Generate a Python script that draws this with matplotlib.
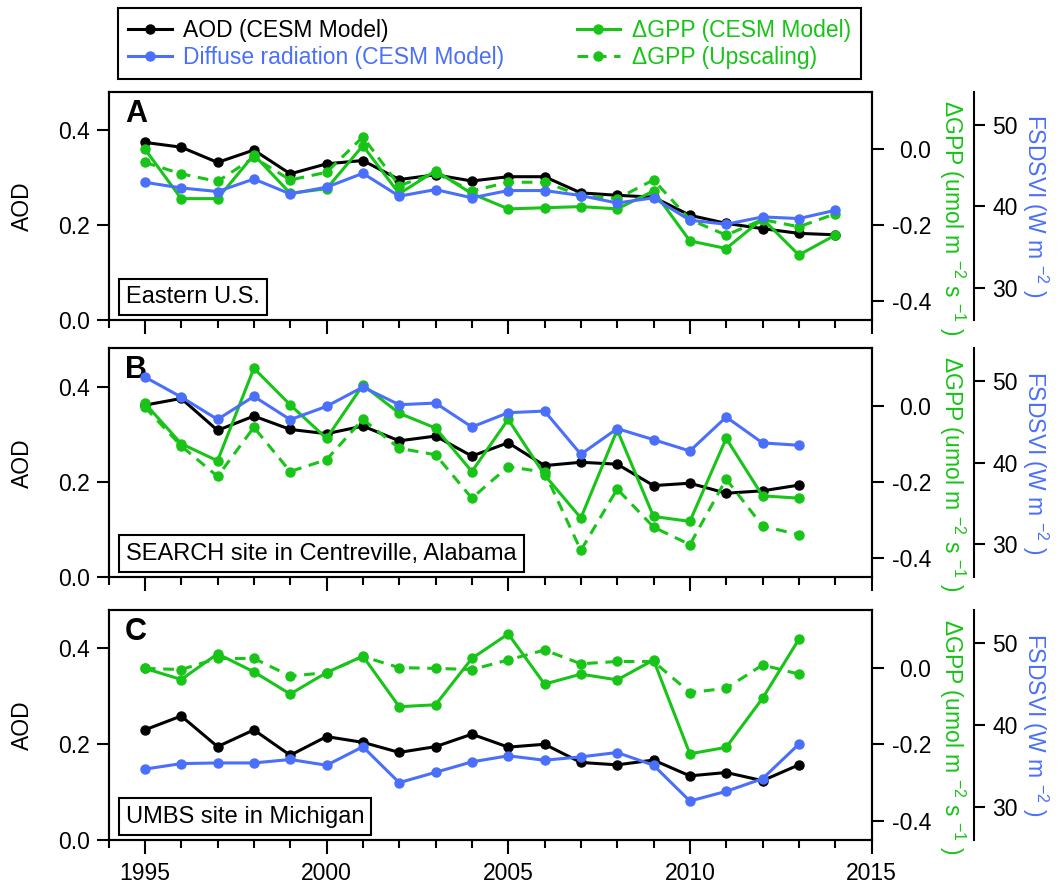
import matplotlib
matplotlib.use('Agg')
import matplotlib.pyplot as plt
from matplotlib.ticker import MultipleLocator

# ---- data ----
years_a = [1995, 1996, 1997, 1998, 1999, 2000, 2001, 2002, 2003, 2004,
           2005, 2006, 2007, 2008, 2009, 2010, 2011, 2012, 2013, 2014]
years_bc = [1995, 1996, 1997, 1998, 1999, 2000, 2001, 2002, 2003, 2004,
            2005, 2006, 2007, 2008, 2009, 2010, 2011, 2012, 2013]

# Panel A: Eastern U.S.
aod_a = [0.374, 0.364, 0.332, 0.358, 0.308, 0.329, 0.336, 0.296, 0.306, 0.293,
         0.302, 0.302, 0.268, 0.263, 0.259, 0.221, 0.204, 0.193, 0.183, 0.180]
gpp_a = [0.000, -0.130, -0.130, -0.015, -0.116, -0.104, 0.009, -0.117, -0.057, -0.117,
         -0.157, -0.154, -0.151, -0.157, -0.110, -0.241, -0.261, -0.183, -0.278, -0.226]
gpp_up_a = [-0.035, -0.065, -0.085, -0.022, -0.081, -0.061, 0.032, -0.096, -0.063, -0.110,
            -0.087, -0.087, -0.122, -0.130, -0.081, -0.185, -0.226, -0.185, -0.204, -0.170]
fsd_a = [42.93, 42.24, 41.80, 43.33, 41.51, 42.33, 44.03, 41.23, 42.04, 41.03,
         41.92, 41.92, 41.31, 40.39, 41.03, 38.29, 37.79, 38.69, 38.49, 39.50]

# Panel B: SEARCH site
aod_b = [0.361, 0.375, 0.308, 0.338, 0.310, 0.301, 0.317, 0.286, 0.296, 0.254,
         0.282, 0.234, 0.241, 0.237, 0.192, 0.197, 0.176, 0.181, 0.193]
gpp_b = [0.006, -0.100, -0.145, 0.098, 0.002, -0.086, 0.054, -0.020, -0.059, -0.173,
         -0.036, -0.182, -0.295, -0.064, -0.291, -0.304, -0.086, -0.237, -0.243]
gpp_up_b = [-0.004, -0.106, -0.186, -0.057, -0.173, -0.142, -0.036, -0.112, -0.129, -0.243,
            -0.160, -0.175, -0.380, -0.219, -0.319, -0.365, -0.193, -0.316, -0.339]
fsd_b = [50.50, 48.05, 45.31, 48.13, 45.28, 46.91, 49.27, 47.11, 47.31, 44.38,
         46.13, 46.33, 41.04, 44.18, 42.83, 41.44, 45.60, 42.43, 42.14]

# Panel C: UMBS site
aod_c = [0.230, 0.259, 0.195, 0.230, 0.177, 0.216, 0.204, 0.183, 0.195, 0.221,
         0.194, 0.200, 0.162, 0.157, 0.167, 0.134, 0.141, 0.124, 0.157]
gpp_c = [-0.002, -0.031, 0.036, -0.011, -0.069, -0.013, 0.030, -0.102, -0.097, 0.024,
         0.088, -0.043, -0.017, -0.032, 0.020, -0.225, -0.208, -0.080, 0.074]
gpp_up_c = [-0.002, -0.005, 0.024, 0.024, -0.022, -0.013, 0.029, 0.000, -0.002, -0.005,
            0.020, 0.046, 0.010, 0.016, 0.016, -0.065, -0.054, 0.007, -0.017]
fsd_c = [34.64, 35.31, 35.39, 35.39, 35.81, 35.11, 37.36, 32.99, 34.25, 35.52,
         36.26, 35.72, 36.13, 36.66, 35.11, 30.75, 31.93, 33.47, 37.68]

letters = ['A', 'B', 'C']
sites = ['Eastern U.S.', 'SEARCH site in Centreville, Alabama', 'UMBS site in Michigan']
aod_ticks = [0.0, 0.2, 0.4]
gpp_ticks = [-0.4, -0.2, 0.0]
gpp_tick_labels = ['-0.4', '-0.2', '0.0']
fsd_ticks = [30, 40, 50]

BLACK = '#000000'
BLUE = '#4a6ffa'
GREEN = '#17c417'
LW = 2.2
MS = 6.5
FS = 16.5


def draw_panel(fig, rect, years, aod, gpp, gpp_up, fsd, letter, site, bottom):
    ax = fig.add_axes(rect)
    h_aod, = ax.plot(years, aod, color=BLACK, lw=LW, marker='o', ms=MS)
    ax.set_xlim(1994, 2015)
    ax.set_ylim(0, 0.48)
    ax.set_yticks(aod_ticks)
    ax.yaxis.set_major_formatter(lambda v, p: f'{v:.1f}')
    ax.xaxis.set_major_locator(MultipleLocator(5))
    ax.xaxis.set_minor_locator(MultipleLocator(1))
    ax.tick_params(axis='y', direction='out', length=8.6, width=1.5, labelsize=FS, pad=5)
    ax.tick_params(axis='x', which='major', direction='out', length=10, width=1.5,
                   labelsize=FS, pad=6, labelbottom=bottom)
    ax.tick_params(axis='x', which='minor', direction='out', length=6, width=1.5)
    for s in ax.spines.values():
        s.set_linewidth(1.5)
    ax.set_ylabel('AOD', fontsize=FS, va='center')
    ax.yaxis.set_label_coords(-0.113, 0.5)

    # GPP axis (right, on the frame)
    ax2 = ax.twinx()
    h_up, = ax2.plot(years, gpp_up, color=GREEN, lw=LW, marker='o', ms=MS,
                     ls=(0, (3.5, 2.5)))
    h_gpp, = ax2.plot(years, gpp, color=GREEN, lw=LW, marker='o', ms=MS)
    ax2.set_ylim(-0.45, 0.15)
    ax2.set_yticks(gpp_ticks, labels=gpp_tick_labels, ha='right')
    ax2.tick_params(axis='y', direction='out', length=8.6, width=1.5, labelsize=FS, pad=34.5)
    for s in ax2.spines.values():
        s.set_linewidth(1.5)
    ax2.set_ylabel('ΔGPP (umol m $^{-2}$ s $^{-1}$ )', color=GREEN, fontsize=FS,
                   rotation=270, va='center', ha='center', rotation_mode='default')
    ax2.yaxis.set_label_coords(1.105, 0.45)

    # FSDSVI axis (offset right)
    ax3 = ax.twinx()
    h_fsd, = ax3.plot(years, fsd, color=BLUE, lw=LW, marker='o', ms=MS)
    ax3.set_ylim(26, 54)
    ax3.set_yticks(fsd_ticks)
    ax3.spines['right'].set_position(('outward', 74))
    ax3.spines['right'].set_linewidth(1.5)
    for k in ['left', 'top', 'bottom']:
        ax3.spines[k].set_visible(False)
    ax3.tick_params(axis='y', direction='out', length=8, width=1.5, labelsize=FS, pad=5)
    ax3.set_ylabel('FSDSVI (W m $^{-2}$ )', color=BLUE, fontsize=FS,
                   rotation=270, va='center', ha='center', rotation_mode='default')
    ax3.yaxis.set_label_coords(1.214, 0.5)

    ax.annotate(letter, xy=(0, 1), xycoords='axes fraction', xytext=(12, -5),
                textcoords='offset points', ha='left', va='top',
                fontsize=22, fontweight='bold')
    ax.annotate(site, xy=(0, 0), xycoords='axes fraction', xytext=(12.5, 9),
                textcoords='offset points', ha='left', va='bottom', fontsize=FS + 0.5,
                bbox=dict(boxstyle='square,pad=0.3', fc='white', ec='black', lw=1.5))
    return h_aod, h_fsd, h_gpp, h_up


def main():
    plt.rcParams['font.family'] = ['Liberation Sans', 'DejaVu Sans']
    plt.rcParams['mathtext.fontset'] = 'custom'
    plt.rcParams['mathtext.rm'] = 'Liberation Sans'
    plt.rcParams['mathtext.it'] = 'Liberation Sans:italic'
    plt.rcParams['mathtext.bf'] = 'Liberation Sans:bold'
    plt.rcParams['axes.unicode_minus'] = False

    fig = plt.figure(figsize=(10.6, 8.91), dpi=100)
    left, width = 0.1024, 0.7198
    rects = [[left, 0.6403, width, 0.2565],
             [left, 0.3524, width, 0.2565],
             [left, 0.0572, width, 0.2580]]

    handles = draw_panel(fig, rects[0], years_a, aod_a, gpp_a, gpp_up_a, fsd_a,
                         letters[0], sites[0], False)
    draw_panel(fig, rects[1], years_bc, aod_b, gpp_b, gpp_up_b, fsd_b,
               letters[1], sites[1], False)
    draw_panel(fig, rects[2], years_bc, aod_c, gpp_c, gpp_up_c, fsd_c,
               letters[2], sites[2], True)

    labels = ['AOD (CESM Model)', 'Diffuse radiation (CESM Model)',
              'ΔGPP (CESM Model)', 'ΔGPP (Upscaling)']
    leg = fig.legend(handles, labels, loc='upper left',
                     bbox_to_anchor=(0.1113, 0.0, 0.701, 0.9907), mode='expand',
                     ncol=2, frameon=True, fancybox=False, edgecolor='black',
                     fontsize=FS, handlelength=1.9, handletextpad=0.5,
                     labelspacing=0.2, borderpad=0.45, borderaxespad=0,
                     labelcolor='linecolor')
    leg.get_frame().set_linewidth(1.5)
    leg.get_frame().set_alpha(None)

    fig.savefig('out.png', dpi=100, facecolor='white')


if __name__ == "__main__":
    main()
